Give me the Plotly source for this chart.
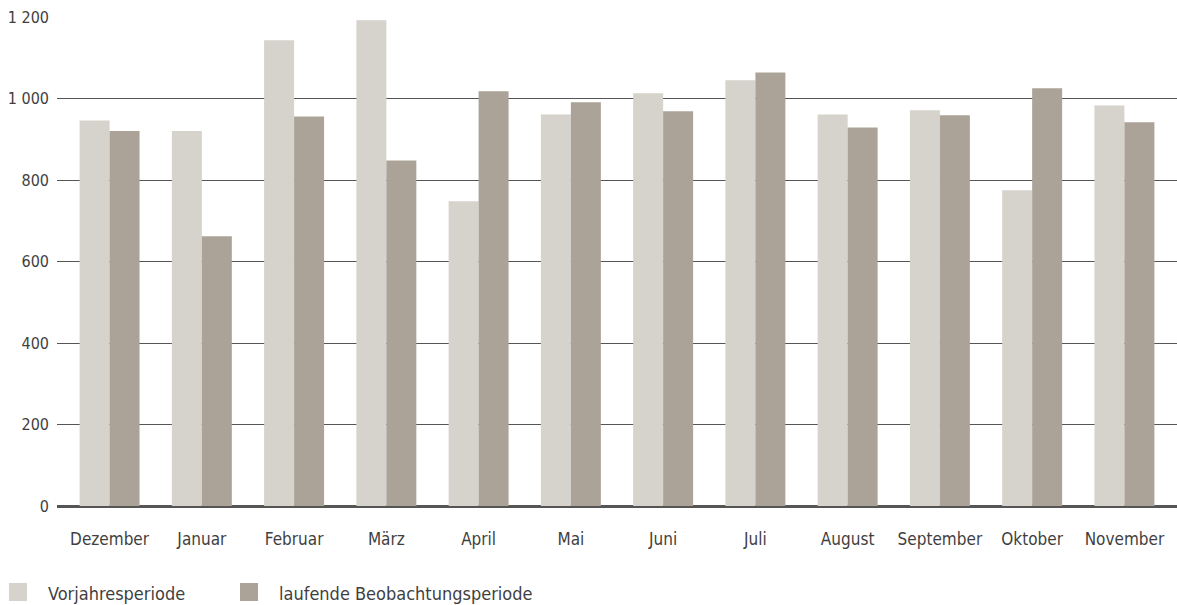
import plotly.graph_objects as go

# Monthly values for the two observation periods
months = ["Dezember", "Januar", "Februar", "März", "April", "Mai", "Juni",
          "Juli", "August", "September", "Oktober", "November"]
vorjahr = [946, 920, 1143, 1192, 748, 961, 1013, 1045, 961, 971, 775, 983]
laufend = [920, 662, 956, 848, 1018, 991, 969, 1064, 929, 959, 1025, 942]

y_ticks = [0, 200, 400, 600, 800, 1000, 1200]
y_tick_labels = ["0", "200", "400", "600", "800", "1 000", "1 200"]

series_names = ["Vorjahresperiode", "laufende Beobachtungsperiode"]
colors = ["#d6d2cc", "#aca398"]
text_color = "#3f3f3f"
font_family = "DejaVu Sans Condensed, Noto Sans, sans-serif"

fig = go.Figure()
fig.add_trace(go.Bar(x=months, y=vorjahr, name=series_names[0],
                     marker=dict(color=colors[0], line=dict(width=0))))
fig.add_trace(go.Bar(x=months, y=laufend, name=series_names[1],
                     marker=dict(color=colors[1], line=dict(width=0))))

fig.update_layout(
    width=1177, height=605,
    margin=dict(l=57, r=0, t=17, b=99),
    paper_bgcolor="white", plot_bgcolor="white",
    barmode="group", bargap=0.35, bargroupgap=0,
    showlegend=False,
    font=dict(family=font_family, size=16, color=text_color),
    xaxis=dict(range=[-0.57, 11.57], showgrid=False, showline=False,
               zeroline=False, ticks="", ticklabelstandoff=21,
               tickfont=dict(size=17, color=text_color)),
    yaxis=dict(range=[0, 1200], tickvals=y_ticks, ticktext=y_tick_labels,
               showgrid=True, gridcolor="#555555", gridwidth=1.3,
               zeroline=True, zerolinecolor="#555555", zerolinewidth=3,
               showline=False, ticks="", ticklabelstandoff=7,
               tickfont=dict(size=16, color=text_color)),
)

# Legend drawn as swatches with labels beneath the chart
legend_items = [(9, series_names[0], colors[0]), (240, series_names[1], colors[1])]
for x0, label, col in legend_items:
    fig.add_shape(type="rect", xref="paper", yref="paper",
                  x0=(x0 - 57) / 1120, x1=(x0 + 18 - 57) / 1120,
                  y0=(506 - 601) / 489, y1=(506 - 583) / 489,
                  fillcolor=col, line=dict(width=0), layer="above")
    fig.add_annotation(text=label, xref="paper", yref="paper",
                       x=(x0 + 37 - 57) / 1120, y=(506 - 593) / 489,
                       xanchor="left", yanchor="middle", showarrow=False,
                       font=dict(size=18, color=text_color))

fig.write_html("out.html")
